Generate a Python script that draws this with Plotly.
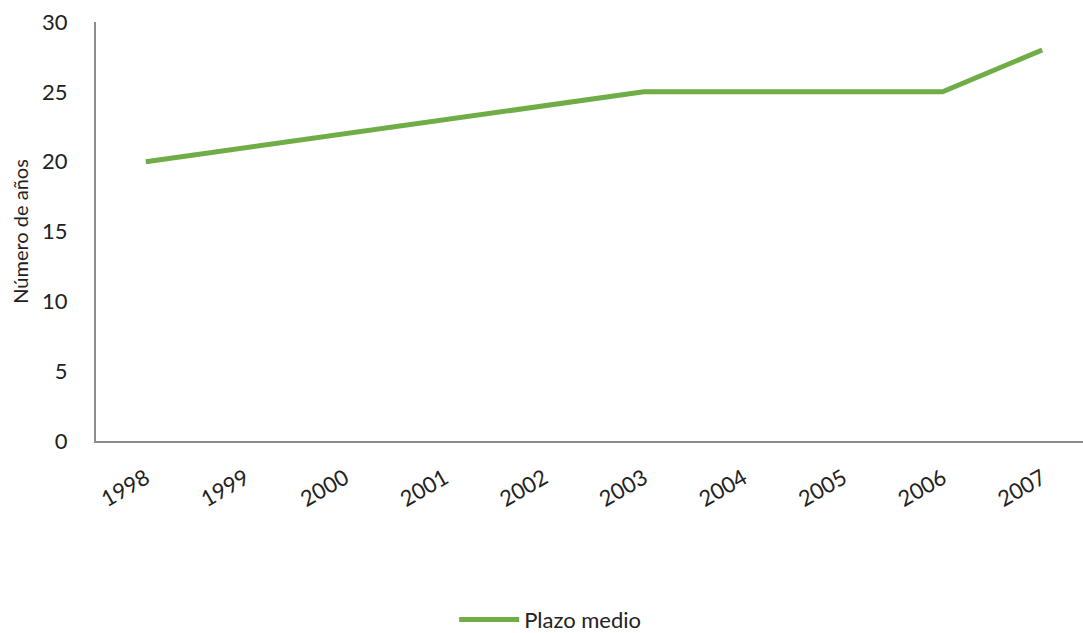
import plotly.graph_objects as go

years = ["1998", "1999", "2000", "2001", "2002", "2003", "2004", "2005", "2006", "2007"]
plazo_medio = [20, 21, 22, 23, 24, 25, 25, 25, 25, 28]

font_family = "Lato, 'Open Sans', sans-serif"

fig = go.Figure()
fig.add_trace(go.Scatter(
    x=years,
    y=plazo_medio,
    mode="lines",
    name="Plazo medio",
    line=dict(color="#70AD47", width=5, shape="linear"),
))

fig.update_layout(
    width=1083,
    height=633,
    margin=dict(l=96, r=0, t=22, b=192),
    paper_bgcolor="white",
    plot_bgcolor="white",
    font=dict(family=font_family, size=22, color="#222222"),
    showlegend=True,
    legend=dict(
        orientation="h",
        xref="container",
        yref="container",
        x=0.508, xanchor="center",
        y=0.021, yanchor="middle",
        font=dict(size=22, color="#222222"),
        itemwidth=60,
    ),
    xaxis=dict(
        type="category",
        range=[-0.5, 9.41],
        automargin=False,
        showgrid=False,
        showline=True,
        linecolor="#8c8c8c",
        linewidth=2,
        ticks="",
        tickangle=-30,
        ticklabelstandoff=14,
        tickfont=dict(size=22),
        zeroline=False,
    ),
    yaxis=dict(
        range=[0, 30],
        dtick=5,
        automargin=False,
        showgrid=False,
        showline=True,
        linecolor="#8c8c8c",
        linewidth=2,
        ticks="",
        ticklabelstandoff=22,
        tickfont=dict(size=22),
        zeroline=False,
        title=dict(text="Número de años", font=dict(size=20), standoff=8),
    ),
)

fig.write_html("out.html")
